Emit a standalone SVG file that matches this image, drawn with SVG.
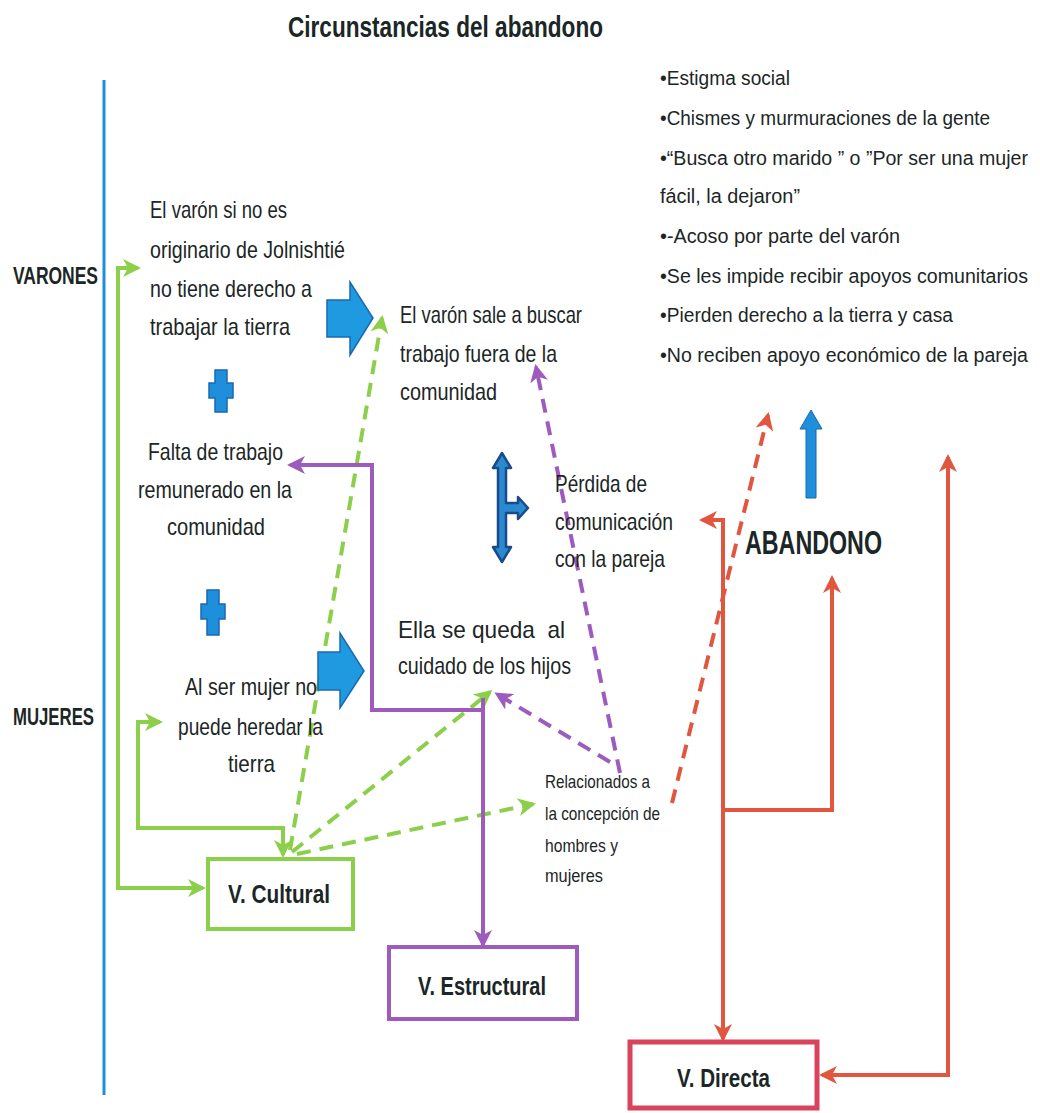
<svg xmlns="http://www.w3.org/2000/svg" width="1040" height="1113" viewBox="0 0 1040 1113">
<defs>
<style>
.t{font-family:"Liberation Sans",Arial,sans-serif;font-size:24px;fill:#1b2626}
.b{font-weight:bold}
.s{font-size:19px}
.l{font-size:20px}
.h{font-size:29px}
.a{font-size:33px}
.k{font-size:26px}
.g{fill:none;stroke:#8ccf4a;stroke-width:4}
.p{fill:none;stroke:#9d5bbd;stroke-width:4}
.r{fill:none;stroke:#e0563f;stroke-width:4}
.d{stroke-dasharray:14 9}
</style>
<marker id="mg" markerUnits="userSpaceOnUse" markerWidth="20" markerHeight="20" refX="15" refY="10" orient="auto-start-reverse"><path d="M0,1 L18,10 L0,19 L5,10 z" fill="#8ccf4a"/></marker>
<marker id="mp" markerUnits="userSpaceOnUse" markerWidth="20" markerHeight="20" refX="15" refY="10" orient="auto-start-reverse"><path d="M0,1 L18,10 L0,19 L5,10 z" fill="#9d5bbd"/></marker>
<marker id="mr" markerUnits="userSpaceOnUse" markerWidth="20" markerHeight="20" refX="15" refY="10" orient="auto-start-reverse"><path d="M0,1 L18,10 L0,19 L5,10 z" fill="#e0563f"/></marker>
</defs>
<rect width="1040" height="1113" fill="#ffffff"/>

<text class="t b h" x="288" y="37" textLength="315" lengthAdjust="spacingAndGlyphs">Circunstancias del abandono</text>
<line x1="104" y1="80" x2="104" y2="1095" stroke="#1f8fdc" stroke-width="3"/>
<text class="t b" x="13" y="284" textLength="85" lengthAdjust="spacingAndGlyphs">VARONES</text>
<text class="t b" x="13" y="725" textLength="81" lengthAdjust="spacingAndGlyphs">MUJERES</text>

<g id="connectors">
<path class="g" d="M138 268 L118 268 L118 888 L203 888" marker-start="url(#mg)" marker-end="url(#mg)"/>
<path class="g" d="M160 722 L138 722 L138 828 L283 828 L283 855" marker-start="url(#mg)" marker-end="url(#mg)"/>
<path class="g d" d="M290 850 L382 318" marker-end="url(#mg)"/>
<path class="g d" d="M292 852 L490 692" marker-end="url(#mg)"/>
<path class="g d" d="M297 854 L533 804" marker-end="url(#mg)"/>
<path class="p" d="M290 465 L372 465 L372 710 L483 710" marker-start="url(#mp)"/>
<path class="p" d="M483 698 L483 945" marker-end="url(#mp)"/>
<path class="p d" d="M610 762 L497 694" marker-end="url(#mp)"/>
<path class="p d" d="M620 773 L536 367" marker-end="url(#mp)"/>
<path class="r d" d="M672 803 L768 415" marker-end="url(#mr)"/>
<path class="r" d="M702 520 L723 520 L723 1039" marker-start="url(#mr)" marker-end="url(#mr)"/>
<path class="r" d="M723 810 L832 810 L832 578" marker-end="url(#mr)"/>
<path class="r" d="M822 1075 L948 1075 L948 457" marker-start="url(#mr)" marker-end="url(#mr)"/>
</g>

<g id="node-varon-origen">
<text class="t" x="150" y="218" textLength="137" lengthAdjust="spacingAndGlyphs">El varón si no es</text>
<text class="t" x="150" y="258" textLength="195" lengthAdjust="spacingAndGlyphs">originario de Jolnishtié</text>
<text class="t" x="150" y="297" textLength="162" lengthAdjust="spacingAndGlyphs">no tiene derecho a</text>
<text class="t" x="150" y="335" textLength="140" lengthAdjust="spacingAndGlyphs">trabajar la tierra</text>
</g>
<g id="arrow-1"><polygon points="327,300 350,300 350,282 373,318 350,355 350,337 327,337" fill="#1f9ae0" stroke="#1869b0" stroke-width="1.5"/></g>
<g id="plus-1"><path d="M215 370 H227 V383 H233 V398 H227 V412 H215 V398 H209 V383 H215 Z" fill="#1f8fdc" stroke="#1869b0" stroke-width="1.5"/></g>

<g id="node-falta-trabajo">
<text class="t" x="148" y="460" textLength="135" lengthAdjust="spacingAndGlyphs">Falta de trabajo</text>
<text class="t" x="138" y="498" textLength="154" lengthAdjust="spacingAndGlyphs">remunerado en la</text>
<text class="t" x="167" y="535" textLength="98" lengthAdjust="spacingAndGlyphs">comunidad</text>
</g>
<g id="plus-2"><path d="M207 590 H219 V604 H225 V619 H219 V635 H207 V619 H201 V604 H207 Z" fill="#1f8fdc" stroke="#1869b0" stroke-width="1.5"/></g>

<g id="node-mujer-heredar">
<text class="t" x="185" y="695" textLength="132" lengthAdjust="spacingAndGlyphs">Al ser mujer no</text>
<text class="t" x="178" y="735" textLength="145" lengthAdjust="spacingAndGlyphs">puede heredar la</text>
<text class="t" x="228" y="772" textLength="47" lengthAdjust="spacingAndGlyphs">tierra</text>
</g>
<g id="arrow-2"><polygon points="318,652 340,652 340,633 364,671 340,708 340,690 318,690" fill="#1f9ae0" stroke="#1869b0" stroke-width="1.5"/></g>

<g id="node-varon-sale">
<text class="t" x="400" y="323" textLength="182" lengthAdjust="spacingAndGlyphs">El varón sale a buscar</text>
<text class="t" x="400" y="362" textLength="157" lengthAdjust="spacingAndGlyphs">trabajo fuera de la</text>
<text class="t" x="400" y="400" textLength="97" lengthAdjust="spacingAndGlyphs">comunidad</text>
</g>

<g id="double-arrow"><path d="M502 453 L511 468 L506 468 L506 503 L518 503 L518 497 L528 508 L518 519 L518 513 L506 513 L506 547 L511 547 L502 562 L493 547 L498 547 L498 468 L493 468 Z" fill="#2a8ad0" stroke="#1a4a8a" stroke-width="2.5" stroke-linejoin="round"/></g>

<g id="node-perdida">
<text class="t" x="555" y="492" textLength="92" lengthAdjust="spacingAndGlyphs">Pérdida de</text>
<text class="t" x="555" y="530" textLength="118" lengthAdjust="spacingAndGlyphs">comunicación</text>
<text class="t" x="555" y="567" textLength="110" lengthAdjust="spacingAndGlyphs">con la pareja</text>
</g>

<g id="node-abandono">
<text class="t b a" x="745" y="554" textLength="137" lengthAdjust="spacingAndGlyphs">ABANDONO</text>
</g>
<g id="arrow-up"><polygon points="806,498 816,498 816,429 822,429 811,410 800,429 806,429" fill="#1f8fdc" stroke="#1869b0" stroke-width="1"/></g>

<g id="node-ella">
<text class="t" x="398" y="638" textLength="167" lengthAdjust="spacingAndGlyphs" xml:space="preserve">Ella se queda  al</text>
<text class="t" x="398" y="674" textLength="173" lengthAdjust="spacingAndGlyphs">cuidado de los hijos</text>
</g>

<g id="node-relacionados">
<text class="t s" x="545" y="788" textLength="105" lengthAdjust="spacingAndGlyphs">Relacionados a</text>
<text class="t s" x="545" y="820" textLength="115" lengthAdjust="spacingAndGlyphs">la concepción de</text>
<text class="t s" x="545" y="852" textLength="73" lengthAdjust="spacingAndGlyphs">hombres y</text>
<text class="t s" x="545" y="882" textLength="58" lengthAdjust="spacingAndGlyphs">mujeres</text>
</g>

<g id="node-consecuencias">
<text class="t l" x="660" y="85" textLength="130" lengthAdjust="spacingAndGlyphs">•Estigma social</text>
<text class="t l" x="660" y="125" textLength="330" lengthAdjust="spacingAndGlyphs">•Chismes y murmuraciones de la gente</text>
<text class="t l" x="660" y="165" textLength="368" lengthAdjust="spacingAndGlyphs">•“Busca otro marido ” o ”Por ser una mujer</text>
<text class="t l" x="660" y="203" textLength="140" lengthAdjust="spacingAndGlyphs">fácil, la dejaron”</text>
<text class="t l" x="660" y="243" textLength="240" lengthAdjust="spacingAndGlyphs">•-Acoso por parte del varón</text>
<text class="t l" x="660" y="283" textLength="368" lengthAdjust="spacingAndGlyphs">•Se les impide recibir apoyos comunitarios</text>
<text class="t l" x="660" y="322" textLength="293" lengthAdjust="spacingAndGlyphs">•Pierden derecho a la tierra y casa</text>
<text class="t l" x="660" y="362" textLength="368" lengthAdjust="spacingAndGlyphs">•No reciben apoyo económico de la pareja</text>
</g>

<g id="node-v-cultural">
<rect x="208" y="859" width="145" height="70" fill="#ffffff" stroke="#8ccf4a" stroke-width="4"/>
<text class="t b k" x="228" y="903" textLength="102" lengthAdjust="spacingAndGlyphs">V. Cultural</text>
</g>
<g id="node-v-estructural">
<rect x="389" y="947" width="188" height="72" fill="#ffffff" stroke="#9d5bbd" stroke-width="4"/>
<text class="t b k" x="418" y="995" textLength="128" lengthAdjust="spacingAndGlyphs">V. Estructural</text>
</g>
<g id="node-v-directa">
<rect x="630" y="1042" width="187" height="66" fill="#ffffff" stroke="#d9435c" stroke-width="5"/>
<text class="t b k" x="677" y="1087" textLength="93" lengthAdjust="spacingAndGlyphs">V. Directa</text>
</g>
</svg>
